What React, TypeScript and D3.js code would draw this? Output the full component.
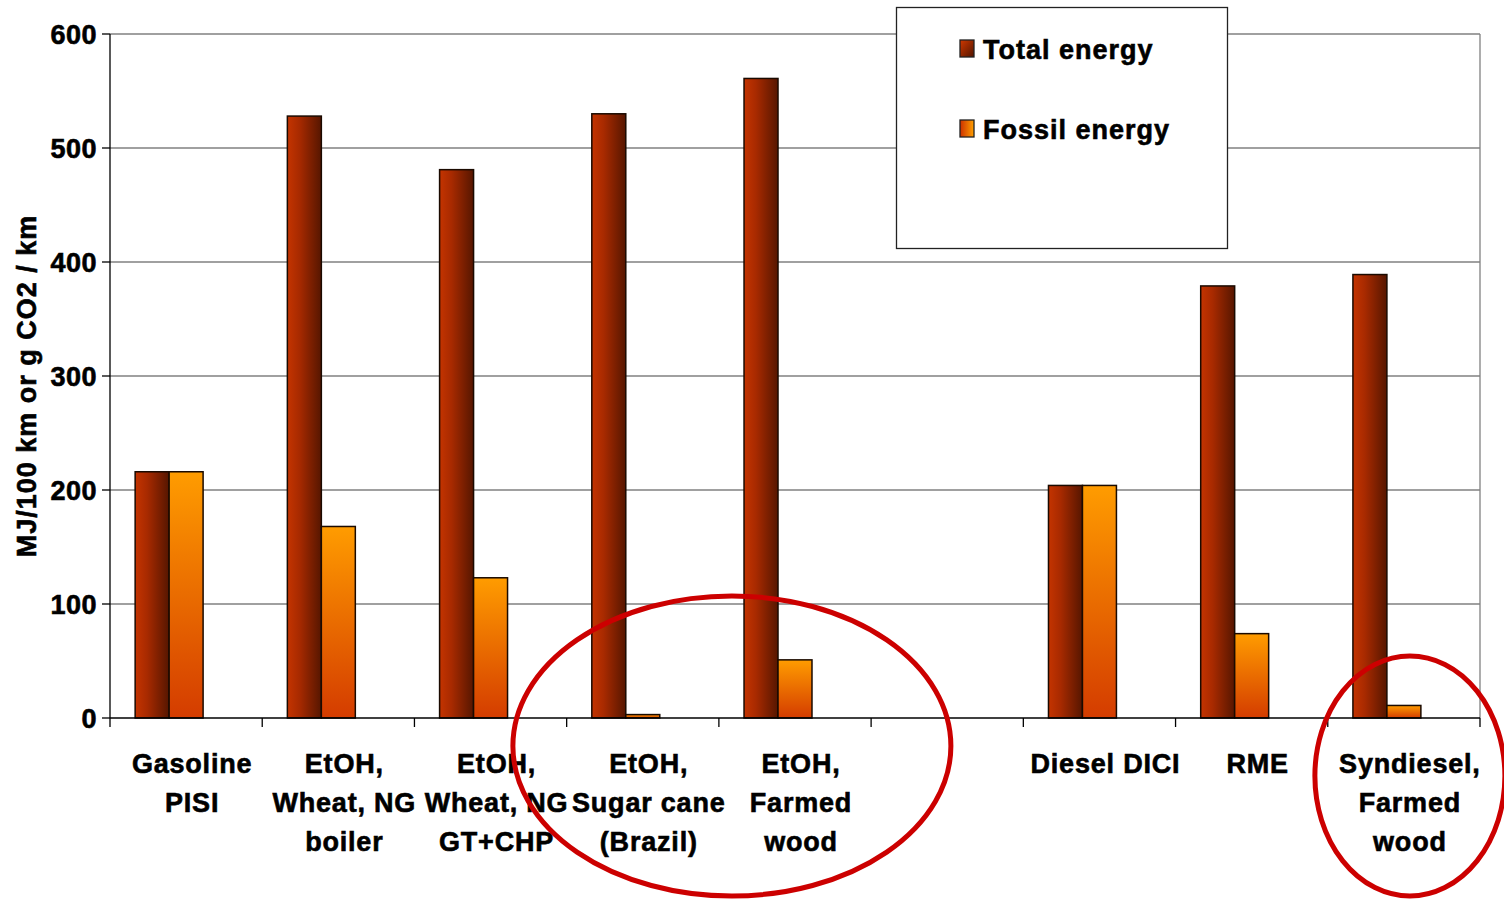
import React, { useEffect, useRef } from "react";
import * as d3 from "d3";

// categories (one empty slot separates petrol and diesel pathways)
const categories: string[][] = [
  ["Gasoline", "PISI"],
  ["EtOH,", "Wheat, NG", "boiler"],
  ["EtOH,", "Wheat, NG", "GT+CHP"],
  ["EtOH,", "Sugar cane", "(Brazil)"],
  ["EtOH,", "Farmed", "wood"],
  [],
  ["Diesel DICI"],
  ["RME"],
  ["Syndiesel,", "Farmed", "wood"],
];
const totalEnergy: (number | null)[] = [216, 528, 481, 530, 561, null, 204, 379, 389];
const fossilEnergy: (number | null)[] = [216, 168, 123, 3, 51, null, 204, 74, 11];
const seriesNames = ["Total energy", "Fossil energy"];
const yTicks = [0, 100, 200, 300, 400, 500, 600];

const App: React.FC = () => {
  const svgRef = useRef<SVGSVGElement>(null);

  useEffect(() => {
    document.body.style.margin = "0";
    document.body.style.overflow = "hidden";
    if (!svgRef.current) return;
    const root = d3.select(svgRef.current);
    root.selectAll("*").remove();

    const width = 1504;
    const height = 899;
    const left = 110;
    const right = 1480;
    const top = 34;
    const bottom = 718;
    const font = "'Liberation Sans', Arial, sans-serif";

    const svg = root.attr("width", width).attr("height", height);

    // make bold text a bit heavier, like the original rendering
    const heavy = (sel: d3.Selection<SVGTextElement, any, any, any>) =>
      sel
        .style("font-family", font)
        .style("font-weight", "bold")
        .attr("stroke", "#000")
        .attr("stroke-width", 0.6);

    // gradients
    const defs = svg.append("defs");
    const gTotal = defs.append("linearGradient").attr("id", "gTotal")
      .attr("x1", 0).attr("x2", 1).attr("y1", 0).attr("y2", 0);
    gTotal.append("stop").attr("offset", "0%").attr("stop-color", "#c43400");
    gTotal.append("stop").attr("offset", "35%").attr("stop-color", "#a82a00");
    gTotal.append("stop").attr("offset", "100%").attr("stop-color", "#561600");
    const gFossil = defs.append("linearGradient").attr("id", "gFossil")
      .attr("x1", 0).attr("x2", 0).attr("y1", 0).attr("y2", 1);
    gFossil.append("stop").attr("offset", "0%").attr("stop-color", "#ff9c00");
    gFossil.append("stop").attr("offset", "100%").attr("stop-color", "#d43c00");
    const gTotalKey = defs.append("linearGradient").attr("id", "gTotalKey")
      .attr("x1", 0).attr("x2", 1).attr("y1", 0).attr("y2", 1);
    gTotalKey.append("stop").attr("offset", "0%").attr("stop-color", "#d03800");
    gTotalKey.append("stop").attr("offset", "100%").attr("stop-color", "#501400");
    const gFossilKey = defs.append("linearGradient").attr("id", "gFossilKey")
      .attr("x1", 0).attr("x2", 1).attr("y1", 0).attr("y2", 0);
    gFossilKey.append("stop").attr("offset", "0%").attr("stop-color", "#cc3000");
    gFossilKey.append("stop").attr("offset", "100%").attr("stop-color", "#ffa000");

    const x = d3
      .scaleBand<number>()
      .domain(d3.range(categories.length))
      .range([left, right])
      .padding(0);
    // third (empty) series keeps Excel's bar placement
    const xInner = d3
      .scaleBand<string>()
      .domain(["total", "fossil", "co2"])
      .range([0, x.bandwidth()])
      .paddingInner(0)
      .paddingOuter(0.74);
    const y = d3.scaleLinear().domain([0, 600]).range([bottom, top]);

    // gridlines
    svg.append("g")
      .selectAll("line")
      .data(yTicks.filter((t) => t > 0))
      .enter()
      .append("line")
      .attr("x1", left).attr("x2", right)
      .attr("y1", (d) => y(d)).attr("y2", (d) => y(d))
      .attr("stroke", "#808080").attr("stroke-width", 1.3);
    // right border
    svg.append("line")
      .attr("x1", right).attr("x2", right).attr("y1", top).attr("y2", bottom)
      .attr("stroke", "#808080").attr("stroke-width", 1.3);

    // bars
    const bars = svg.append("g");
    categories.forEach((_, i) => {
      const x0 = x(i)!;
      const t = totalEnergy[i];
      const f = fossilEnergy[i];
      if (t != null) {
        bars.append("rect")
          .attr("x", x0 + xInner("total")!).attr("width", xInner.bandwidth())
          .attr("y", y(t)).attr("height", y(0) - y(t))
          .attr("fill", "url(#gTotal)").attr("stroke", "#1a0a00").attr("stroke-width", 1.5);
      }
      if (f != null) {
        bars.append("rect")
          .attr("x", x0 + xInner("fossil")!).attr("width", xInner.bandwidth())
          .attr("y", y(f)).attr("height", y(0) - y(f))
          .attr("fill", "url(#gFossil)").attr("stroke", "#1a0a00").attr("stroke-width", 1.5);
      }
    });

    // y axis
    svg.append("line")
      .attr("x1", left).attr("x2", left).attr("y1", top).attr("y2", bottom)
      .attr("stroke", "#000").attr("stroke-width", 1.3);
    const yAxis = svg.append("g");
    yTicks.forEach((t) => {
      yAxis.append("line")
        .attr("x1", left - 8).attr("x2", left).attr("y1", y(t)).attr("y2", y(t))
        .attr("stroke", "#000").attr("stroke-width", 1.3);
      yAxis.append("text")
        .attr("x", left - 13).attr("y", y(t) + 9.5)
        .attr("text-anchor", "end")
        .call(heavy)
        .style("font-size", "27px").style("letter-spacing", "0.5px")
        .text(t);
    });

    // x axis
    svg.append("line")
      .attr("x1", left).attr("x2", right).attr("y1", bottom).attr("y2", bottom)
      .attr("stroke", "#000").attr("stroke-width", 1.5);
    const bounds = d3.range(categories.length + 1).map((i) =>
      i < categories.length ? x(i)! : right
    );
    svg.append("g")
      .selectAll("line")
      .data(bounds)
      .enter()
      .append("line")
      .attr("x1", (d) => d).attr("x2", (d) => d)
      .attr("y1", bottom).attr("y2", bottom + 9)
      .attr("stroke", "#000").attr("stroke-width", 1.3);

    const labels = svg.append("g");
    categories.forEach((lines, i) => {
      const cx = x(i)! + x.bandwidth() / 2 + 6;
      lines.forEach((ln, j) => {
        labels.append("text")
          .attr("x", cx).attr("y", 773 + j * 39)
          .attr("text-anchor", "middle")
          .call(heavy)
          .style("font-size", "27px").style("letter-spacing", "0.8px")
          .text(ln);
      });
    });

    // y axis title
    svg.append("text")
      .attr("transform", `translate(36, ${(top + bottom) / 2 + 10}) rotate(-90)`)
      .attr("text-anchor", "middle")
      .call(heavy)
      .style("font-size", "27px").style("letter-spacing", "1px")
      .text("MJ/100 km or g CO2 / km");

    // legend
    const lg = svg.append("g");
    lg.append("rect")
      .attr("x", 896.5).attr("y", 7.5).attr("width", 331).attr("height", 241)
      .attr("fill", "#fff").attr("stroke", "#222").attr("stroke-width", 1.3);
    seriesNames.forEach((name, i) => {
      const yy = 49 + i * 80;
      lg.append("rect")
        .attr("x", 960).attr("y", yy - 9).attr("width", 14).attr("height", 17)
        .attr("fill", i === 0 ? "url(#gTotalKey)" : "url(#gFossilKey)")
        .attr("stroke", "#222").attr("stroke-width", 1.3);
      lg.append("text")
        .attr("x", 983).attr("y", yy + 10)
        .call(heavy)
        .style("font-size", "27px").style("letter-spacing", "1px")
        .text(name);
    });

    // annotation ellipses
    const ann = svg.append("g").attr("fill", "none").attr("stroke", "#cc0000").attr("stroke-width", 5);
    ann.append("ellipse")
      .attr("cx", (x(3)! + x(5)!) / 2 + 13).attr("cy", 746).attr("rx", 219).attr("ry", 150);
    ann.append("ellipse")
      .attr("cx", x(8)! + x.bandwidth() / 2 + 6).attr("cy", 776).attr("rx", 95).attr("ry", 120);
  }, []);

  return <svg ref={svgRef} style={{ display: "block" }}></svg>;
};

export default App;
